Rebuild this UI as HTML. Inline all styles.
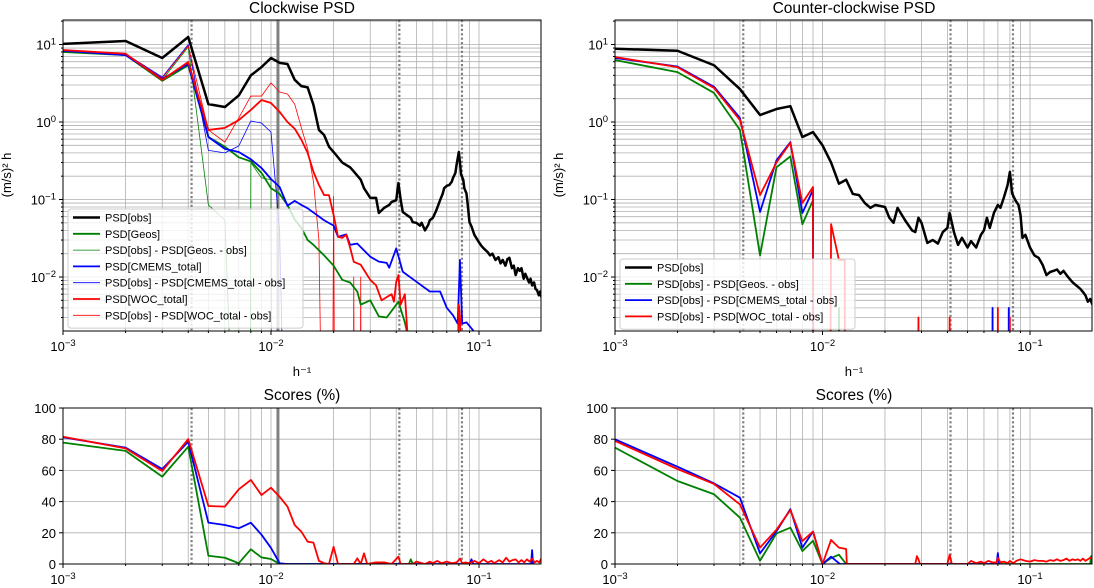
<!DOCTYPE html>
<html><head><meta charset="utf-8">
<style>
html,body{margin:0;padding:0;background:#fff;}
svg{display:block;font-family:"Liberation Sans","DejaVu Sans",sans-serif;}
</style></head>
<body>
<svg id="chart" width="1094" height="588" viewBox="0 0 1094 588" xmlns="http://www.w3.org/2000/svg"></svg>
<script>
// ---------- DATA (frequency index k -> f = k/1000 h^-1) ----------
const cwObsK = [1,2,3,4,5,6,7,8,9,10,11,12,13,14,15,16,17,18,19,20,22,24,25,27,28,30,32,33,35,37,38,40,41,42,43,45,47,48,50,52,53,55,57,58,60,62,63,65,67,68,70,72,74,75,77,78,80,81,82,84,85,87,88,90,92,95,97,100,103,106,110,113,116,120,124,127,130,134,137,140,144,147,150,154,157,160,164,167,170,174,177,180,184,187,190,194,197,200];
const cwObs = [10.2,11.1,6.7,12.5,1.7,1.56,2.2,4.0,5.1,6.7,5.8,5.6,3.5,2.9,2.8,1.66,0.79,0.68,0.48,0.41,0.30,0.26,0.23,0.18,0.14,0.105,0.105,0.067,0.078,0.085,0.093,0.098,0.163,0.1,0.069,0.063,0.058,0.051,0.05,0.046,0.05,0.040,0.047,0.054,0.058,0.07,0.078,0.098,0.12,0.14,0.15,0.154,0.17,0.19,0.22,0.28,0.41,0.3,0.21,0.18,0.14,0.12,0.093,0.051,0.045,0.035,0.032,0.028,0.025,0.023,0.021,0.019,0.02,0.0166,0.018,0.015,0.0166,0.014,0.017,0.0177,0.013,0.014,0.0106,0.013,0.012,0.013,0.0095,0.011,0.0098,0.0085,0.0095,0.0078,0.0085,0.007,0.0068,0.0058,0.0065,0.0054];
const cwGeosK = [1,2,3,4,5,6,7,8,9,10,11,12,13,14,15,16,18,20,22,24,26,27,30,33,36,39,41,44,46];
const cwGeos = [8.0,7.3,3.4,5.4,0.64,0.48,0.35,0.31,0.22,0.14,0.118,0.085,0.055,0.043,0.03,0.026,0.019,0.014,0.0092,0.0085,0.0065,0.0044,0.005,0.0031,0.003,0.004,0.0048,0.0026,0.0015];
const cwGeosDiffK = [1,2,3,4,5,6,7,7.9,8,9,10,10.1];
const cwGeosDiff = [8.0,7.5,3.5,9.3,0.085,0.054,1e-6,1e-6,0.30,0.19,0.18,1e-6];
const cwCmemsK = [1,2,3,4,5,6,7,8,9,10,11,12,13,14,15,18,20,21,23,24,26,30,33,36,37,40,43,50,58,65,70,75,79,81,83,87,93,97,100];
const cwCmems = [8.3,7.3,3.6,5.6,0.64,0.45,0.41,0.33,0.255,0.184,0.145,0.083,0.096,0.085,0.077,0.054,0.046,0.033,0.0355,0.026,0.027,0.0183,0.0158,0.0152,0.0132,0.0234,0.0117,0.0087,0.0065,0.0065,0.0040,0.0032,0.0025,0.0166,0.0025,0.0026,0.0021,0.0018,0.0015];
const cwCmemsDiffK = [1,2,3,4,5,6,7,8,9,10,11,12];
const cwCmemsDiff = [8.3,7.6,3.8,10,0.43,0.40,0.49,1.03,0.97,0.74,0.04,1e-6];
const cwWocK = [1,2,3,4,5,6,7,8,9,10,11,12,13,14,15,16,17,18,19,20,21,22,23,24,25,27,28,30,32,34,36,38,39,40,41,42,44,46,79,80,81,82];
const cwWoc = [8.5,7.6,3.5,5.95,0.79,0.84,1.06,1.43,1.92,1.76,1.35,1.0,0.82,0.59,0.40,0.227,0.154,0.114,0.114,0.063,0.033,0.032,0.035,0.024,0.0157,0.0144,0.0123,0.0092,0.0078,0.005,0.0055,0.006,0.0048,0.0086,0.0106,0.0044,0.006,0.001,0.001,0.0044,0.003,0.001];
const cwWocDiffK = [1,2,3,4,5,6,7,8,9,10,11,12,13,14,15,16,17,18,19.6,20,20.4,24.7,25,25.3,26.7,27,27.3];
const cwWocDiff = [8.3,7.5,3.7,9.6,0.79,0.55,1.13,2.16,2.16,3.2,2.44,2.3,1.7,0.84,0.45,0.17,0.03,1e-6,1e-6,0.11,1e-6,1e-6,0.01,1e-6,1e-6,0.01,1e-6];

const ccwObsK = [1,2,3,4,5,6,7,8,9,10,11,12,13,14,15,16,17,18,20,21,22,23,25,27,28,29,30,32,34,36,38,40,41,43,45,47,50,52,55,58,60,62,64,67,70,72,75,78,80,82,85,88,90,92,95,100,105,110,115,120,125,130,135,140,145,150,155,160,165,170,175,180,185,190,195,200];
const ccwObs = [8.8,8.3,5.4,2.66,1.23,1.47,1.6,0.64,0.74,0.5,0.30,0.16,0.18,0.118,0.114,0.09,0.078,0.085,0.08,0.058,0.05,0.078,0.054,0.04,0.038,0.058,0.05,0.0275,0.030,0.027,0.038,0.043,0.067,0.038,0.026,0.032,0.024,0.029,0.024,0.035,0.04,0.058,0.043,0.067,0.085,0.078,0.108,0.154,0.227,0.12,0.098,0.085,0.063,0.032,0.035,0.024,0.019,0.0177,0.0144,0.0106,0.0116,0.012,0.0125,0.011,0.012,0.0106,0.0095,0.0086,0.008,0.0075,0.007,0.0064,0.0058,0.0048,0.0052,0.0044];
const ccwGeosK = [1,2,3,4,5,6,7,8,9,9.05,11.9,12,12.1];
const ccwGeos = [6.3,4.4,2.37,0.79,0.019,0.26,0.36,0.048,0.098,1e-6,1e-6,0.004,1e-6];
const ccwCmemsK = [1,2,3,4,5,6,7,8,9,9.05,65.5,66,66.5,78.5,79,79.5];
const ccwCmems = [6.7,5.2,2.85,1.13,0.069,0.32,0.55,0.067,0.133,1e-6,1e-6,0.004,1e-6,1e-6,0.004,1e-6];
const ccwWocK = [1,2,3,4,5,6,7,8,9,9.05,10.8,11,12,12.8,12.85,28.6,29,29.4,40.6,41,41.4,69.5,70,70.5,79.5,80,80.5];
const ccwWoc = [6.9,5.1,2.75,1.06,0.114,0.30,0.54,0.09,0.145,1e-6,1e-6,0.048,0.0166,0.0166,1e-6,1e-6,0.003,1e-6,1e-6,0.003,1e-6,1e-6,0.004,1e-6,1e-6,0.003,1e-6];

const scLK_red = [1,2,3,4,5,6,7,8,9,10,11,12,13,14,15,16,17,18,19,20,21,25,26,27,28,29,32,35,38,41,42,48,50,55,58,60,63,66,70,74,78,81,83,86,90,95,100,105,110,115,118,125,130,135,140,145,150,155,160,165,170,175,180,185,190,195,200];
const scL_red = [81.6,74.1,59.6,80.1,37.2,36.8,47.9,53.9,44.2,48.9,43.1,36.8,25,20.7,14.3,13.7,2,0.5,0,11,0,0,3.6,0,6.8,0,1,1,0,4.7,0,0,1.5,0,1.5,0.5,2,0.5,1.5,0.5,1,3.5,0.5,1,0.5,2,0.5,3,1,2,0.5,2.5,1,4,1.5,2.5,3,1,2.5,1,3,1.5,3.5,1,2,1,4];
const scLK_blue = [1,2,3,4,5,6,7,8,9,10,11,12,90,92,94,178,180,182];
const scL_blue = [81.2,74.6,60.9,78.4,26.5,25,22.9,26.5,18.8,10.3,0.5,0,0,3,0,0,8.9,0];
const scLK_green = [1,2,3,4,5,6,7,8,9,10,11,46,47,48];
const scL_green = [77.8,72.5,56,75.2,5.3,4,0.5,9.4,4.2,3.2,0,0,3,0];
const scRK_red = [1,2,3,4,5,6,7,8,9,10,11,12,13,13.1,28,28.5,29,29.5,40,41,42,50,52,55,58,60,63,66,69,70,72,75,78,80,83,86,90,95,100,105,110,115,120,125,130,135,140,145,150,155,160,165,170,175,180,185,190,195,200];
const scR_red = [78.9,60.9,51.3,38.2,10.5,22,34.6,14.7,20.8,0,15.4,10.5,9.6,0,0,5,3,0,0,6,0,0,2,0.5,1.5,0.5,2,1,1,4,1,1.5,0.5,2,0.5,2,3,2,1.5,2.5,2,2,1.5,2.5,2,3,2,2.5,3.5,2,3,2.5,3,2,3.5,2,3,4,3];
const scRK_blue = [1,2,3,4,5,6,7,8,9,10,11,12,12.1,69,70,71];
const scR_blue = [79.9,62.4,51.7,42.5,6.8,21,35.2,10.5,20.8,0,4.7,0.5,0,0,7,0];
const scRK_green = [1,2,3,4,5,6,7,8,9,10,11,12,13,195,197,199];
const scR_green = [74.6,53.2,44.7,29.7,2.1,19.6,23.3,8.3,14.9,0,3.8,6,0,0,5,0];

const tidalK = [4.15, 41.4, 82.8];
const inertialK = 10.8;
const yTickExp = [1,0,-1,-2];
const xTickExp = [-3,-2,-1];
const scoreTicks = [0,20,40,60,80,100];

// ---------- DRAWING ----------
const NS = "http://www.w3.org/2000/svg";
const svg = document.getElementById("chart");
function mk(tag, attrs, parent){
  const e = document.createElementNS(NS, tag);
  for (const a in attrs) e.setAttribute(a, attrs[a]);
  (parent||svg).appendChild(e);
  return e;
}
const panels = {
  tl:{x0:63,x1:541,y0:20,y1:331,dec:208,log:true},
  tr:{x0:615,x1:1092,y0:20,y1:331,dec:207.5,log:true},
  bl:{x0:63,x1:541,y0:408,y1:564,dec:208,log:false},
  br:{x0:615,x1:1092,y0:408,y1:564,dec:207.5,log:false}
};
function xs(p,k){ return p.x0 + p.dec*Math.log10(k); }
function ys(p,v){
  if (p.log) return 122 + (p.y0-20) - 77.5*Math.log10(Math.max(v,1e-9));
  return p.y1 - (p.y1-p.y0)*v/100;
}
let clipN=0;
function setupPanel(p, name){
  const g = mk("g",{});
  
  
  const cid = "clip"+(clipN++);
  const cp = mk("clipPath",{id:cid}, g);
  mk("rect",{x:p.x0,y:p.y0,width:p.x1-p.x0,height:p.y1-p.y0}, cp);
  const grid = mk("g",{stroke:"#b0b0b0","stroke-width":0.8,"clip-path":"url(#"+cid+")"}, g);
  
  
  // vertical grid (major+minor)
  for (let d=0; d<3; d++) for (let m=1; m<=9; m++){
    const k = Math.pow(10,d)*m; const x = xs(p,k);
    if (x>p.x0 && x<p.x1) mk("line",{x1:x,x2:x,y1:p.y0,y2:p.y1}, grid);
  }
  if (p.log){
    for (let d=-3; d<=1; d++) for (let m=1; m<=9; m++){
      const v = m*Math.pow(10,d); const y = ys(p,v);
      if (y>p.y0 && y<p.y1) mk("line",{x1:p.x0,x2:p.x1,y1:y,y2:y}, grid);
    }
  } else {
    scoreTicks.forEach(t=>{ const y=ys(p,t); mk("line",{x1:p.x0,x2:p.x1,y1:y,y2:y}, grid); });
  }
  // reference lines
  tidalK.forEach(k=>{
    const l = mk("line",{x1:xs(p,k),x2:xs(p,k),y1:p.y0,y2:p.y1,stroke:"#808080","stroke-width":2.2,"stroke-dasharray":"2.2,2.2"}, g);
    
    
  });
  if (p===panels.tl || p===panels.bl){
    const l = mk("line",{x1:xs(p,inertialK),x2:xs(p,inertialK),y1:p.y0,y2:p.y1,stroke:"#808080","stroke-width":3}, g);
    
    
  }
  const series = mk("g",{"clip-path":"url(#"+cid+")"}, g);
  // frame
  mk("rect",{x:p.x0,y:p.y0,width:p.x1-p.x0,height:p.y1-p.y0,fill:"none",stroke:"#000","stroke-width":1}, g);
  // x ticks
  xTickExp.forEach((e,i)=>{
    const x = xs(p, Math.pow(10,e+3));
    mk("line",{x1:x,x2:x,y1:p.y1,y2:p.y1+4,stroke:"#000"}, g);
    const t = mk("text",{x:x,y:p.y1+20,"text-anchor":"middle","font-size":13}, g);
    
    
    t.textContent = "10";
    const s = mk("tspan",{dy:-5,"font-size":9.5}, t); s.textContent = "\u2212"+(-e);
  });
  for (let d=0; d<3; d++) for (let m=2; m<=9; m++){
    const x = xs(p, Math.pow(10,d)*m);
    if (x<p.x1) mk("line",{x1:x,x2:x,y1:p.y1,y2:p.y1+2,stroke:"#000"}, g);
  }
  if (p.log){
    yTickExp.forEach(e=>{
      const y = ys(p, Math.pow(10,e));
      mk("line",{x1:p.x0-4,x2:p.x0,y1:y,y2:y,stroke:"#000"}, g);
      const t = mk("text",{x:p.x0-7,y:y+5,"text-anchor":"end","font-size":13}, g);
      
      
      t.textContent = "10";
      const s = mk("tspan",{dy:-5,"font-size":9.5}, t); s.textContent = e<0 ? "\u2212"+(-e) : String(e);
    });
    for (let d=-3; d<=1; d++) for (let m=2; m<=9; m++){
      const y = ys(p, m*Math.pow(10,d));
      if (y>p.y0 && y<p.y1) mk("line",{x1:p.x0-2,x2:p.x0,y1:y,y2:y,stroke:"#000"}, g);
    }
  } else {
    scoreTicks.forEach(v=>{
      const y = ys(p,v);
      mk("line",{x1:p.x0-4,x2:p.x0,y1:y,y2:y,stroke:"#000"}, g);
      const t = mk("text",{x:p.x0-7,y:y+5,"text-anchor":"end","font-size":13}, g);
      
      
      t.textContent = String(v);
    });
  }
  return series;
}
function line(p, parent, K, V, color, w, name){
  const n = Math.min(K.length, V.length);
  let d = "";
  for (let i=0;i<n;i++) d += (i?"L":"M") + xs(p,K[i]).toFixed(2)+","+ys(p,V[i]).toFixed(2);
  const path = mk("path",{d:d,fill:"none",stroke:color,"stroke-width":w,"stroke-linejoin":"round"}, parent);
  
  
  return path;
}
const G="#008000", B="#0000ff", R="#ff0000";
const stl = setupPanel(panels.tl, "clockwise-psd");
line(panels.tl, stl, cwGeosDiffK, cwGeosDiff, G, 0.8, "cw-geos-diff-line");
line(panels.tl, stl, cwCmemsDiffK, cwCmemsDiff, B, 0.8, "cw-cmems-diff-line");
line(panels.tl, stl, cwWocDiffK, cwWocDiff, R, 0.8, "cw-woc-diff-line");
line(panels.tl, stl, cwGeosK, cwGeos, G, 1.8, "cw-geos-line");
line(panels.tl, stl, cwCmemsK, cwCmems, B, 1.8, "cw-cmems-line");
line(panels.tl, stl, cwWocK, cwWoc, R, 1.8, "cw-woc-line");
line(panels.tl, stl, cwObsK, cwObs, "#000", 2.5, "cw-obs-line");

const str = setupPanel(panels.tr, "counter-clockwise-psd");
line(panels.tr, str, ccwGeosK, ccwGeos, G, 1.8, "ccw-geos-diff-line");
line(panels.tr, str, ccwCmemsK, ccwCmems, B, 1.8, "ccw-cmems-diff-line");
line(panels.tr, str, ccwWocK, ccwWoc, R, 1.8, "ccw-woc-diff-line");
line(panels.tr, str, ccwObsK, ccwObs, "#000", 2.5, "ccw-obs-line");

const sbl = setupPanel(panels.bl, "clockwise-scores");
line(panels.bl, sbl, scLK_green, scL_green, G, 1.8, "cw-score-geos-line");
line(panels.bl, sbl, scLK_blue, scL_blue, B, 1.8, "cw-score-cmems-line");
line(panels.bl, sbl, scLK_red, scL_red, R, 1.8, "cw-score-woc-line");

const sbr = setupPanel(panels.br, "counter-clockwise-scores");
line(panels.br, sbr, scRK_green, scR_green, G, 1.8, "ccw-score-geos-line");
line(panels.br, sbr, scRK_blue, scR_blue, B, 1.8, "ccw-score-cmems-line");
line(panels.br, sbr, scRK_red, scR_red, R, 1.8, "ccw-score-woc-line");

// titles and axis labels
function txt(x,y,s,size,name,extra){
  const t = mk("text",Object.assign({x:x,y:y,"text-anchor":"middle","font-size":size},extra||{}));
  
  
  t.textContent = s; return t;
}
txt(302,13,"Clockwise PSD",15.5,"left-title");
txt(854,13,"Counter-clockwise PSD",15.5,"right-title");
txt(302,400,"Scores (%)",15.5,"left-scores-title");
txt(854,400,"Scores (%)",15.5,"right-scores-title");
txt(302,376,"h\u207B\u00B9",13,"left-x-axis-title");
txt(854,376,"h\u207B\u00B9",13,"right-x-axis-title");
txt(0,0,"(m/s)\u00B2 h",13,"left-y-axis-title",{transform:"translate(11,175) rotate(-90)"});
txt(0,0,"(m/s)\u00B2 h",13,"right-y-axis-title",{transform:"translate(563,175) rotate(-90)"});

// legends
function legend(x,y,w,entries,name){
  const g = mk("g",{});
  
  
  mk("rect",{x:x,y:y,width:w,height:entries.length*16.3+5,rx:3,fill:"#fff","fill-opacity":0.8,stroke:"#ccc","stroke-width":1}, g);
  entries.forEach((e,i)=>{
    const yy = y+8.5+i*16.3;
    const l = mk("line",{x1:x+5,x2:x+32,y1:yy,y2:yy,stroke:e[1],"stroke-width":e[2]}, g);
    
    
    const t = mk("text",{x:x+37,y:yy+4,"font-size":11}, g);
    
    
    t.textContent = e[0];
  });
}
legend(68,209,235,[
  ["PSD[obs]","#000",2.5],["PSD[Geos]",G,1.8],["PSD[obs] - PSD[Geos. - obs]",G,0.8],
  ["PSD[CMEMS_total]",B,1.8],["PSD[obs] - PSD[CMEMS_total - obs]",B,0.8],
  ["PSD[WOC_total]",R,1.8],["PSD[obs] - PSD[WOC_total - obs]",R,0.8]
],"left-legend");
legend(620,259,235,[
  ["PSD[obs]","#000",2.5],["PSD[obs] - PSD[Geos. - obs]",G,1.8],
  ["PSD[obs] - PSD[CMEMS_total - obs]",B,1.8],["PSD[obs] - PSD[WOC_total - obs]",R,1.8]
],"right-legend");
</script>
</body></html>
